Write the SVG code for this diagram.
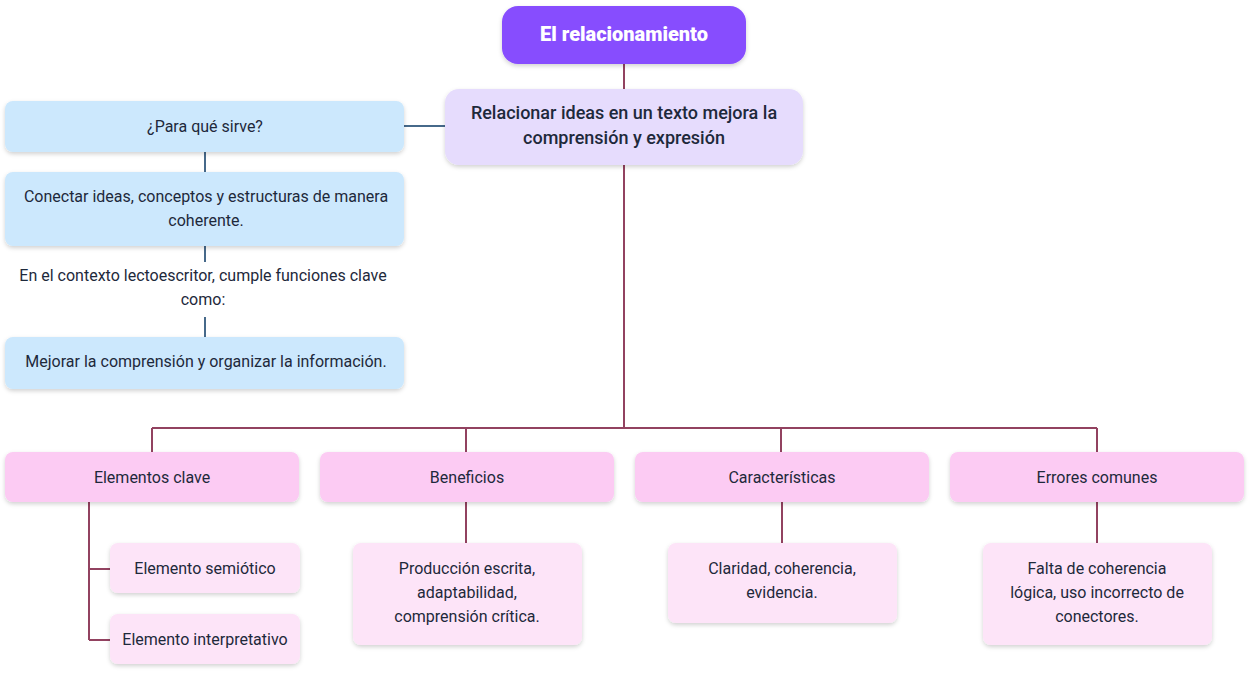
<svg xmlns="http://www.w3.org/2000/svg" width="1250" height="673" viewBox="0 0 1250 673">
<defs>
<filter id="sh" x="-10%" y="-20%" width="120%" height="150%">
<feDropShadow dx="0" dy="2" stdDeviation="2" flood-color="#000" flood-opacity="0.18"/>
</filter>
<style>
text{font-family:Roboto,"Liberation Sans",sans-serif;font-size:16px;fill:#1e293b;text-anchor:middle}
.root{fill:#874efe;filter:url(#sh)}
.rt{fill:#ffffff;font-weight:900;font-size:20px}
.main{fill:#e6dcfd;filter:url(#sh)}
.mt{font-weight:500;font-size:18px}
.blue{fill:#cce8fd;filter:url(#sh)}
.cat{fill:#fccbf3;filter:url(#sh)}
.leaf{fill:#fde4f8;filter:url(#sh)}
.cm{stroke:#924260;stroke-width:2;fill:none}
.cb{stroke:#46698a;stroke-width:2;fill:none}
</style>
</defs>
<g id="connectors">
<path class="cm" d="M624 64V89M624 165V428M152 428H1097M152 428V452M466 428V452M781 428V452M1097 428V452"/>
<path class="cm" d="M89 502V640M89 569H110M89 640H110"/>
<path class="cm" d="M466 502V543M782 502V543M1097 502V543"/>
<path class="cb" d="M445 126H404M205 152V172M205 246V262M205 317V337"/>
</g>
<g id="root"><rect class="root" x="502" y="6" width="244" height="58" rx="16"/><text class="rt" x="624" y="41">El relacionamiento</text></g>
<g id="main"><rect class="main" x="445" y="89" width="358" height="76" rx="14"/><text class="mt" x="624" y="119">Relacionar ideas en un texto mejora la</text><text class="mt" x="624" y="144">comprensión y expresión</text></g>
<g id="para"><rect class="blue" x="5" y="101" width="399" height="51" rx="8"/><text x="205" y="132">¿Para qué sirve?</text></g>
<g id="conectar"><rect class="blue" x="5" y="172" width="399" height="74" rx="8"/><text x="206" y="202">Conectar ideas, conceptos y estructuras de manera</text><text x="206" y="226">coherente.</text></g>
<g id="contexto"><text x="203" y="281">En el contexto lectoescritor, cumple funciones clave</text><text x="203" y="305">como:</text></g>
<g id="mejorar"><rect class="blue" x="5" y="337" width="399" height="52" rx="8"/><text x="206" y="367">Mejorar la comprensión y organizar la información.</text></g>
<g id="elementos"><rect class="cat" x="5" y="452" width="294" height="50" rx="8"/><text x="152" y="483">Elementos clave</text></g>
<g id="beneficios"><rect class="cat" x="320" y="452" width="294" height="50" rx="8"/><text x="467" y="483">Beneficios</text></g>
<g id="caracteristicas"><rect class="cat" x="635" y="452" width="294" height="50" rx="8"/><text x="782" y="483">Características</text></g>
<g id="errores"><rect class="cat" x="950" y="452" width="294" height="50" rx="8"/><text x="1097" y="483">Errores comunes</text></g>
<g id="semiotico"><rect class="leaf" x="110" y="543" width="190" height="50" rx="8"/><text x="205" y="574">Elemento semiótico</text></g>
<g id="interpretativo"><rect class="leaf" x="110" y="614" width="190" height="50" rx="8"/><text x="205" y="645">Elemento interpretativo</text></g>
<g id="produccion"><rect class="leaf" x="353" y="543" width="229" height="102" rx="8"/><text x="467" y="574">Producción escrita,</text><text x="467" y="598">adaptabilidad,</text><text x="467" y="622">comprensión crítica.</text></g>
<g id="claridad"><rect class="leaf" x="668" y="543" width="229" height="80" rx="8"/><text x="782" y="574">Claridad, coherencia,</text><text x="782" y="598">evidencia.</text></g>
<g id="falta"><rect class="leaf" x="983" y="543" width="229" height="102" rx="8"/><text x="1097" y="574">Falta de coherencia</text><text x="1097" y="598">lógica, uso incorrecto de</text><text x="1097" y="622">conectores.</text></g>
</svg>
